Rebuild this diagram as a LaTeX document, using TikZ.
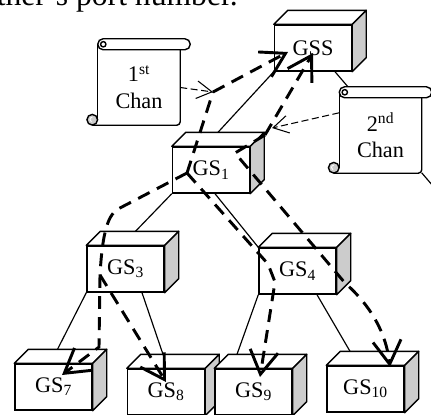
\documentclass[tikz,border=0pt]{standalone}
\usepackage{fontspec}
\setmainfont{Liberation Serif}
\usetikzlibrary{arrows.meta, calc}

% 3D station box: name, centre of front face, label
\newcommand{\gsbox}[3]{%
  \node[gsfront] (#1) at (#2) {#3};
  \draw[gsedge, fill=white] (#1.north west) -- ++(14,-14) -- ($(#1.north east)+(14,-14)$) -- (#1.north east) -- cycle;
  \draw[gsedge, fill=gray!40] (#1.north east) -- ++(14,-14) -- ($(#1.south east)+(14,-14)$) -- (#1.south east) -- cycle;
}

% channel scroll: name, centre of body, text
\newcommand{\chanscroll}[3]{%
  \node[scrollbody] (#1) at (#2) {#3};
  \draw[scrolledge, rounded corners=3pt] ($(#1.south west)+(-5.5,0)$) -- (#1.south east) -- (#1.north east);
  \draw[scrolledge] ($(#1.north west)+(0,-6)$) -- ($(#1.south west)+(0,-5.5)$);
  \draw[scrolledge, fill=white, rounded corners=4.6pt] ($(#1.north west)+(0,-11)$) rectangle ($(#1.north east)+(10,0)$);
  \draw[scrolledge, fill=white] ($(#1.north west)+(5.5,-5.5)$) circle[radius=0.08cm];
  \draw[scrolledge, fill=gray!40] ($(#1.south west)+(-5.5,-5.5)$) circle[radius=0.16cm];
  \draw[line width=0.7pt, white] ($(#1.south west)+(-5.5,-8)$) arc[start angle=90, end angle=250, radius=0.07cm];
}

\begin{document}
\begin{tikzpicture}[
  x=0.03cm, y=-0.03cm,
  gsfront/.style={draw, line width=1.2pt, fill=white, minimum width=2.31cm, minimum height=1.38cm, inner sep=0pt, font=\fontsize{19}{23}\selectfont},
  gsedge/.style={line width=1.2pt, line join=round},
  scrollbody/.style={fill=white, minimum width=2.46cm, minimum height=2.25cm, inner sep=0pt, align=center, font=\fontsize{19}{23}\selectfont},
  scrolledge/.style={line width=1.2pt},
  treeline/.style={line width=1pt},
  route/.style={line width=2.5pt, dash pattern=on 11pt off 7pt},
  routeto/.style={route, -{Straight Barb[length=20pt, width=24pt]}},
  chanarrow/.style={line width=0.9pt, dash pattern=on 6pt off 3pt, -{Straight Barb[length=13pt, width=15pt]}},
]
\clip (0,0) rectangle (431,414);

\node[font=\fontsize{27}{30}\selectfont, anchor=base east, inner sep=0pt] (caption) at (238,5) {other’s port number.};

% station boxes
\gsbox{gss}{313,48}{GSS}
\gsbox{gs1}{211,170}{GS\textsubscript{1}}
\gsbox{gs3}{125.5,269}{GS\textsubscript{3}}
\gsbox{gs4}{297.5,271}{GS\textsubscript{4}}
\gsbox{gs7}{53.5,387}{GS\textsubscript{7}}
\gsbox{gs8}{166,392}{GS\textsubscript{8}}
\gsbox{gs9}{253.5,392}{GS\textsubscript{9}}
\gsbox{gs10}{365.5,389}{GS\textsubscript{10}}
\coordinate (gs2) at (445,200);

% tree links
\draw[treeline] ($(gs1.north)+(7,-14)$) -- (gss.south west);
\draw[treeline] ($(gss.south)+(22,0)$) -- (gs2);
\draw[treeline] (gs1.south west) -- ($(gs3.north)+(10,-14)$);
\draw[treeline] ($(gs1.south)+(4,0)$) -- (gs4.north west);
\draw[treeline] (gs3.south west) -- ($(gs7.north)+(4,-14)$);
\draw[treeline] ($(gs3.south)+(16.5,0)$) -- ($(gs8.north)+(-3,-14)$);
\draw[treeline] (gs4.south west) -- ($(gs9.north)+(-16.5,-14)$);
\draw[treeline] ($(gs4.south)+(19.5,0)$) -- ($(gs10.north)+(-15.5,-14)$);

% channel scrolls
\chanscroll{chan1}{139,87.5}{1\textsuperscript{st}\\Chan}
\chanscroll{chan2}{380.5,135.5}{2\textsuperscript{nd}\\Chan}

% junctions and arrow ends
\coordinate (p1) at (213,92);
\coordinate (p2) at (272,128);
\coordinate (y1) at (187,173);
\coordinate (k1) at (265,135);
\coordinate (k2) at (235,153);
\coordinate (y3) at (100,275);
\coordinate (tgssa) at (288,52);
\coordinate (tgssb) at (313,53);
\coordinate (t7) at (62,375);
\coordinate (t8) at (166,382);
\coordinate (t9) at (260,377);
\coordinate (t10) at (390,367);

% message routes
\draw[chanarrow] (chan1.east) -- (p1);
\draw[chanarrow] ($(chan2.north west)+(0,15)$) -- (p2);
\draw[routeto] (p1) -- (tgssa);
\draw[route] (y1) -- (p1);
\draw[route] (y1) -- (118,209) .. controls (106,216) and (102,240) .. (y3);
\draw[routeto] (y3) -- (99,347) -- (t7);
\draw[routeto] (y3) -- (t8);
\draw[routeto] (y1) -- (268,264) -- (275,282) -- (t9);
\draw[routeto] (k1) -- (tgssb);
\draw[routeto] (k1) -- (k2) -- (345,283) .. controls (370,305) and (386,332) .. (t10);

\end{tikzpicture}
\end{document}
